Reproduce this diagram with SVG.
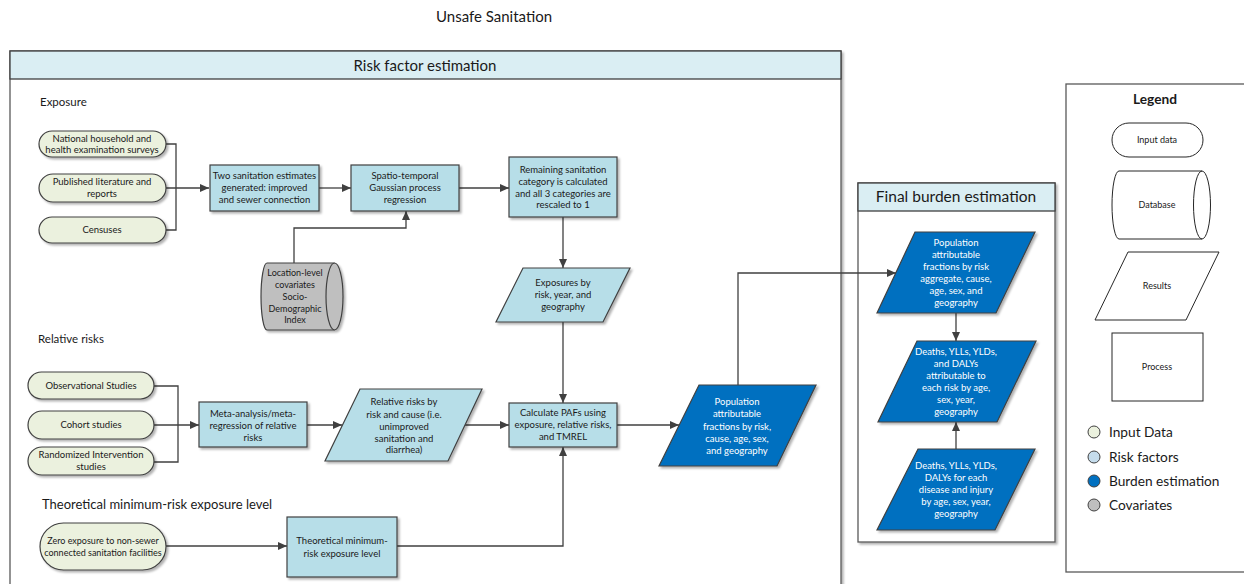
<svg xmlns="http://www.w3.org/2000/svg" width="1244" height="584" viewBox="0 0 1244 584">
<style>
.t{font-family:Lato,"Open Sans",sans-serif;font-size:9.5px;fill:#1a1a1a;text-anchor:middle}
.s9{font-size:9px}
.w{fill:#ffffff}
.sec{font-family:Lato,"Open Sans",sans-serif;font-size:11.5px;fill:#1a1a1a}
.hd{font-family:Lato,"Open Sans",sans-serif;font-size:15px;fill:#1a1a1a;text-anchor:middle}
.lg{font-family:Lato,"Open Sans",sans-serif;font-size:13.7px;fill:#1a1a1a}
.panel{fill:#ffffff;stroke:#595959;stroke-width:1.3}
.band{fill:#daeef3;stroke:#404040;stroke-width:1.3}
.inp{fill:#ebf1de;stroke:#404040;stroke-width:1.2}
.rf{fill:#b7dee8;stroke:#404040;stroke-width:1.2}
.bu{fill:#0070c0;stroke:#404040;stroke-width:1.2}
.cov{fill:#bfbfbf;stroke:#404040;stroke-width:1.2}
.lgs{fill:#ffffff;stroke:#262626;stroke-width:1}
.c{fill:none;stroke:#404040;stroke-width:1.3}
.a{marker-end:url(#ah)}
</style>
<defs>
<marker id="ah" markerUnits="userSpaceOnUse" markerWidth="9" markerHeight="8" refX="9" refY="4" orient="auto">
<path d="M0,0 L9,4 L0,8 z" fill="#404040"/>
</marker>
<filter id="sh" x="-10%" y="-10%" width="130%" height="130%">
<feDropShadow dx="2" dy="2" stdDeviation="0.8" flood-color="#000000" flood-opacity="0.3"/>
</filter>
</defs>
<rect width="1244" height="584" fill="#ffffff"/>
<text x="494" y="22" class="hd">Unsafe Sanitation</text>

<g id="panel-risk">
<rect x="10" y="51" width="831" height="545" class="panel" filter="url(#sh)"/>
<rect x="10" y="51" width="831" height="28" class="band"/>
<text x="425" y="71" class="hd">Risk factor estimation</text>
<text x="40" y="106" class="sec">Exposure</text>
<text x="38" y="343" class="sec">Relative risks</text>
<text x="42" y="509" class="sec" style="font-size:13px">Theoretical minimum-risk exposure level</text>
</g>

<g id="panel-burden">
<rect x="858" y="183" width="197" height="359" class="panel" filter="url(#sh)"/>
<rect x="858" y="183" width="197" height="28" class="band"/>
<text x="956" y="202" class="hd" style="font-size:15.5px">Final burden estimation</text>
</g>

<g id="legend">
<rect x="1066" y="84" width="200" height="488" class="panel"/>
<text x="1155" y="104" class="lg" text-anchor="middle" font-weight="bold">Legend</text>
<rect x="1112" y="123" width="91" height="34" rx="17" class="lgs"/>
<text x="1157" y="143" class="t s9">Input data</text>
<path d="M1119,171 L1202,171 A8.5,34 0 0 1 1202,239 L1119,239 A7,34 0 0 1 1119,171 Z M1202,239 A8.5,34 0 0 1 1202,171" class="lgs"/>
<text x="1157" y="208" class="t s9">Database</text>
<polygon points="1128,252 1219,252 1186,320 1095,320" class="lgs"/>
<text x="1157" y="289" class="t s9">Results</text>
<rect x="1112" y="333" width="91" height="68" class="lgs"/>
<text x="1157" y="370" class="t s9">Process</text>
<circle cx="1094" cy="432" r="6" fill="#ebf1de" stroke="#404040"/>
<text x="1109" y="437" class="lg">Input Data</text>
<circle cx="1094" cy="457" r="6" fill="#c5dcec" stroke="#404040"/>
<text x="1109" y="462" class="lg">Risk factors</text>
<circle cx="1094" cy="481" r="6" fill="#0070c0" stroke="#404040"/>
<text x="1109" y="486" class="lg">Burden estimation</text>
<circle cx="1094" cy="505" r="6" fill="#bfbfbf" stroke="#404040"/>
<text x="1109" y="510" class="lg">Covariates</text>
</g>

<g id="connectors">
<path d="M166,144 H176 V230 H166" class="c"/>
<path d="M166,188 H209" class="c a"/>
<path d="M319,188 H351" class="c a"/>
<path d="M459,188 H509" class="c a"/>
<path d="M294,263 V228 H406 V211" class="c a"/>
<path d="M563,217 V268" class="c a"/>
<path d="M563,322 V403" class="c a"/>
<path d="M154,386 H178 V462 H154" class="c"/>
<path d="M154,425 H199" class="c a"/>
<path d="M307,425 H342" class="c a"/>
<path d="M465,425 H509" class="c a"/>
<path d="M166,546 H287" class="c a"/>
<path d="M397,546 H563 V447" class="c a"/>
<path d="M617,425 H679" class="c a"/>
<path d="M738,385 V273 H896" class="c a"/>
<path d="M956,313 V341" class="c a"/>
<path d="M956,449 V422" class="c a"/>
</g>

<g id="n-surveys">
<rect x="39" y="131" width="127" height="26" rx="13" class="inp" filter="url(#sh)"/>
<text class="t"><tspan x="102" y="141.5">National household and</tspan><tspan x="102" y="153">health examination surveys</tspan></text>
</g>
<g id="n-literature">
<rect x="39" y="174" width="127" height="28" rx="14" class="inp" filter="url(#sh)"/>
<text class="t"><tspan x="102" y="185">Published literature and</tspan><tspan x="102" y="197">reports</tspan></text>
</g>
<g id="n-censuses">
<rect x="39" y="217" width="127" height="26" rx="13" class="inp" filter="url(#sh)"/>
<text x="102" y="233" class="t">Censuses</text>
</g>
<g id="n-two-estimates">
<rect x="210" y="165" width="109" height="46" class="rf" filter="url(#sh)"/>
<text class="t"><tspan x="264.5" y="179">Two sanitation estimates</tspan><tspan x="264.5" y="191">generated: improved</tspan><tspan x="264.5" y="203">and sewer connection</tspan></text>
</g>
<g id="n-gpr">
<rect x="351" y="165" width="108" height="46" class="rf" filter="url(#sh)"/>
<text class="t"><tspan x="405" y="179">Spatio-temporal</tspan><tspan x="405" y="191">Gaussian process</tspan><tspan x="405" y="203">regression</tspan></text>
</g>
<g id="n-remaining">
<rect x="509" y="157" width="108" height="60" class="rf" filter="url(#sh)"/>
<text class="t"><tspan x="563" y="173">Remaining sanitation</tspan><tspan x="563" y="185">category is calculated</tspan><tspan x="563" y="196.5">and all 3 categories are</tspan><tspan x="563" y="208">rescaled to 1</tspan></text>
</g>
<g id="n-exposures">
<polygon points="523,268 630,268 603,322 496,322" class="rf" filter="url(#sh)"/>
<text class="t"><tspan x="563" y="286">Exposures by</tspan><tspan x="563" y="298">risk, year, and</tspan><tspan x="563" y="310">geography</tspan></text>
</g>
<g id="n-covariates">
<path d="M267,263 L334.5,263 A8.5,33.5 0 0 1 334.5,330 L267,330 A6,33.5 0 0 1 267,263 Z" class="cov" filter="url(#sh)"/>
<path d="M334.5,330 A8.5,33.5 0 0 1 334.5,263" class="c" style="stroke-width:1.2"/>
<text class="t s9"><tspan x="295" y="276">Location-level</tspan><tspan x="295" y="288">covariates</tspan><tspan x="295" y="300">Socio-</tspan><tspan x="295" y="311.5">Demographic</tspan><tspan x="295" y="323">Index</tspan></text>
</g>
<g id="n-observational">
<rect x="28" y="372" width="126" height="27" rx="13.5" class="inp" filter="url(#sh)"/>
<text x="91" y="389" class="t">Observational Studies</text>
</g>
<g id="n-cohort">
<rect x="28" y="411" width="126" height="28" rx="14" class="inp" filter="url(#sh)"/>
<text x="91" y="428" class="t">Cohort studies</text>
</g>
<g id="n-randomized">
<rect x="28" y="447" width="126" height="28" rx="14" class="inp" filter="url(#sh)"/>
<text class="t"><tspan x="91" y="458">Randomized Intervention</tspan><tspan x="91" y="469.5">studies</tspan></text>
</g>
<g id="n-meta">
<rect x="199" y="402" width="108" height="45" class="rf" filter="url(#sh)"/>
<text class="t"><tspan x="253" y="417">Meta-analysis/meta-</tspan><tspan x="253" y="429">regression of relative</tspan><tspan x="253" y="440.5">risks</tspan></text>
</g>
<g id="n-rr">
<polygon points="360,389 482,389 448,461 325,461" class="rf" filter="url(#sh)"/>
<text class="t"><tspan x="404" y="405">Relative risks by</tspan><tspan x="404" y="418">risk and cause (i.e.</tspan><tspan x="404" y="430">unimproved</tspan><tspan x="404" y="441.5">sanitation and</tspan><tspan x="404" y="453">diarrhea)</tspan></text>
</g>
<g id="n-calc">
<rect x="509" y="403" width="108" height="44" class="rf" filter="url(#sh)"/>
<text class="t"><tspan x="563" y="416">Calculate PAFs using</tspan><tspan x="563" y="428">exposure, relative risks,</tspan><tspan x="563" y="440">and TMREL</tspan></text>
</g>
<g id="n-zero">
<rect x="40" y="523" width="126" height="47" rx="23.5" class="inp" filter="url(#sh)"/>
<text class="t s9"><tspan x="103" y="544">Zero exposure to non-sewer</tspan><tspan x="103" y="556">connected sanitation facilities</tspan></text>
</g>
<g id="n-tmrel">
<rect x="287" y="517" width="110" height="60" class="rf" filter="url(#sh)"/>
<text class="t"><tspan x="342" y="544">Theoretical minimum-</tspan><tspan x="342" y="557">risk exposure level</tspan></text>
</g>
<g id="n-paf">
<polygon points="699,385 816,385 777,466 659,466" class="bu" filter="url(#sh)"/>
<text class="t w"><tspan x="737" y="405">Population</tspan><tspan x="737" y="417">attributable</tspan><tspan x="737" y="430">fractions by risk,</tspan><tspan x="737" y="442">cause, age, sex,</tspan><tspan x="737" y="454">and geography</tspan></text>
</g>
<g id="n-paf-agg">
<polygon points="915,232 1035,232 996,313 877,313" class="bu" filter="url(#sh)"/>
<text class="t w"><tspan x="956" y="246">Population</tspan><tspan x="956" y="258">attributable</tspan><tspan x="956" y="270">fractions by risk</tspan><tspan x="956" y="282">aggregate, cause,</tspan><tspan x="956" y="294">age, sex, and</tspan><tspan x="956" y="306">geography</tspan></text>
</g>
<g id="n-attrib">
<polygon points="917,341 1036,341 997,422 878,422" class="bu" filter="url(#sh)"/>
<text class="t w"><tspan x="956" y="355">Deaths, YLLs, YLDs,</tspan><tspan x="956" y="367">and DALYs</tspan><tspan x="956" y="379">attributable to</tspan><tspan x="956" y="391">each risk by age,</tspan><tspan x="956" y="403">sex, year,</tspan><tspan x="956" y="415">geography</tspan></text>
</g>
<g id="n-disease">
<polygon points="918,449 1035,449 995,530 877,530" class="bu" filter="url(#sh)"/>
<text class="t w"><tspan x="956" y="469">Deaths, YLLs, YLDs,</tspan><tspan x="956" y="481">DALYs for each</tspan><tspan x="956" y="493">disease and injury</tspan><tspan x="956" y="505">by age, sex, year,</tspan><tspan x="956" y="517">geography</tspan></text>
</g>
</svg>
